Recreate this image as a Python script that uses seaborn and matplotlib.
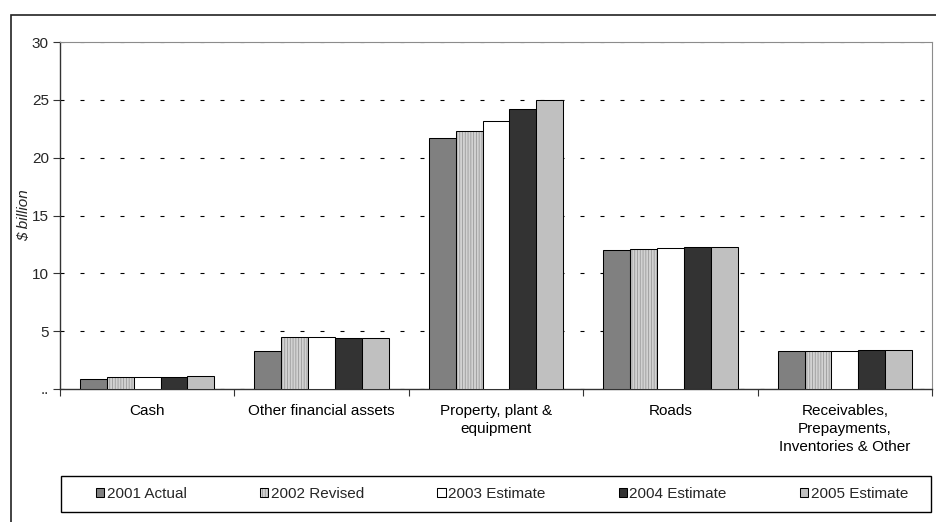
import matplotlib
matplotlib.use("Agg")
import matplotlib.pyplot as plt
from matplotlib.patches import Patch, Rectangle
import seaborn as sns
import pandas as pd

# Asset categories and yearly values ($ billion)
categories = ["Cash", "Other financial assets", "Property, plant &\nequipment",
              "Roads", "Receivables,\nPrepayments,\nInventories & Other"]
years = ["2001 Actual", "2002 Revised", "2003 Estimate", "2004 Estimate", "2005 Estimate"]
v2001 = [0.9, 3.3, 21.7, 12.0, 3.3]
v2002 = [1.0, 4.5, 22.3, 12.1, 3.3]
v2003 = [1.0, 4.5, 23.2, 12.2, 3.3]
v2004 = [1.0, 4.4, 24.2, 12.3, 3.4]
v2005 = [1.1, 4.4, 25.0, 12.3, 3.4]
yticks = [0, 5, 10, 15, 20, 25, 30]
ytick_labels = ["..", "5", "10", "15", "20", "25", "30"]

colors = ["#808080", "#d2d2d2", "#ffffff", "#333333", "#c0c0c0"]

rows = []
for yr, vals in zip(years, [v2001, v2002, v2003, v2004, v2005]):
    for cat, v in zip(categories, vals):
        rows.append({"category": cat, "year": yr, "value": v})
df = pd.DataFrame(rows)

sns.set_style("white")
plt.rcParams["font.family"] = ["Liberation Sans", "DejaVu Sans"]
plt.rcParams["font.size"] = 11
plt.rcParams["hatch.linewidth"] = 0.6

fig = plt.figure(figsize=(9.37, 5.22), dpi=100)
ax = fig.add_axes([60 / 937, 1 - 389 / 522, 872 / 937, 347 / 522])

sns.barplot(data=df, x="category", y="value", hue="year", order=categories,
            hue_order=years, palette=colors, saturation=1, width=0.77,
            edgecolor="black", linewidth=0.75, ax=ax, legend=False, zorder=3)


def hatch_patch(p):
    p.set_hatch("||||||")
    if hasattr(p, "set_hatchcolor"):
        p.set_hatchcolor("#9a9a9a")
    else:
        p._hatch_color = matplotlib.colors.to_rgba("#9a9a9a")


# textured fill for the revised-year series
for p in ax.containers[1]:
    hatch_patch(p)

ax.set_xlim(-0.5, 4.5)
ax.set_ylim(0, 30)
ax.set_yticks(yticks)
ax.set_yticklabels(ytick_labels)
ax.set_xlabel("")
ax.set_ylabel(r"\$ billion", fontstyle="italic")
ax.yaxis.set_label_coords(-29 / 872, 0.5)

# category labels centred, tick marks at group boundaries
ax.set_xticks(range(len(categories)))
ax.set_xticklabels(categories, linespacing=1.33)
ax.set_xticks([i - 0.5 for i in range(len(categories) + 1)], minor=True)
ax.tick_params(axis="x", which="major", length=0, pad=11, colors="black")
ax.tick_params(axis="x", which="minor", direction="out", length=5, width=0.8, color="#333333")
ax.tick_params(axis="y", direction="out", length=5, width=0.8, color="#333333", pad=3)
ax.tick_params(axis="y", which="both", left=True)
ax.tick_params(axis="x", which="minor", bottom=True)

ax.yaxis.grid(True, color="black", linewidth=0.8, linestyle=(0, (3.6, 14.4)), zorder=0)
ax.set_axisbelow(True)

for side in ["left", "bottom"]:
    ax.spines[side].set_color("#333333")
    ax.spines[side].set_linewidth(1.0)
for side in ["top", "right"]:
    ax.spines[side].set_color("#8c8c8c")
    ax.spines[side].set_linewidth(0.8)
    ax.spines[side].set_visible(True)

# legend entries, spread across the legend box
handles = []
for i, (yr, c) in enumerate(zip(years, colors)):
    h = Patch(facecolor=c, edgecolor="black", linewidth=0.75, label=yr)
    if i == 1:
        hatch_patch(h)
    handles.append(h)
leg = fig.legend(handles=handles, labels=years, loc="center left",
                 bbox_to_anchor=(96 / 937, 1 - 512 / 522, 812 / 937, 36 / 522),
                 mode="expand", ncol=5, frameon=False,
                 borderaxespad=0, handlelength=0.55, handleheight=0.55,
                 handletextpad=0.15, borderpad=0.0, fontsize=11)

# legend box
fig.patches.append(Rectangle((61 / 937, 1 - 512 / 522), 870 / 937, 36 / 522,
                             transform=fig.transFigure, fill=False,
                             edgecolor="black", linewidth=1.0))

# outer chart border
fig.patches.append(Rectangle((11 / 937, -0.05), 1.0, 1 - 15 / 522 + 0.05,
                             transform=fig.transFigure, fill=False,
                             edgecolor="#222222", linewidth=1.2))

fig.savefig("out.png", dpi=100)
